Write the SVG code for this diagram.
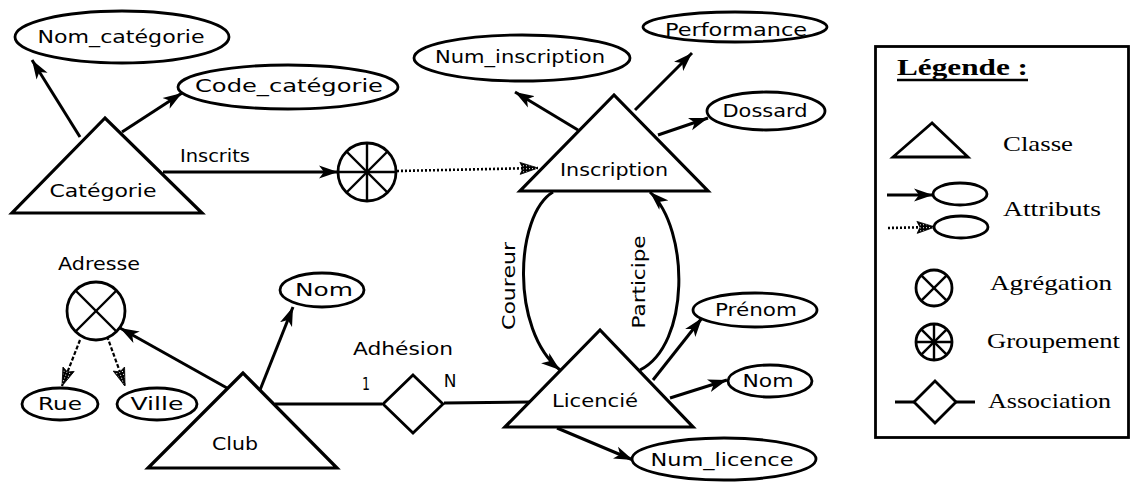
<svg xmlns="http://www.w3.org/2000/svg" width="1132" height="487" viewBox="0 0 1132 487">
  <style>
    .shape { fill: #fff; stroke: #000; stroke-width: 2.8; stroke-linejoin: miter; }
    .cls { fill: #fff; stroke: #000; stroke-width: 3.2; stroke-linejoin: miter; }
    .lnk { fill: none; stroke: #000; stroke-width: 3; }
    .dot { fill: none; stroke: #000; stroke-width: 2.6; stroke-dasharray: 2 2; }
    .dash { fill: none; stroke: #000; stroke-width: 2.2; stroke-dasharray: 4 2; }
    .spoke { stroke: #000; stroke-width: 2.4; }
    text { font-family: "DejaVu Sans", "Liberation Sans", sans-serif; font-size: 17px; fill: #000; }
    .c { text-anchor: middle; }
    .leg { font-family: "Liberation Serif", "DejaVu Serif", serif; font-size: 22px; }
    .title { font-family: "Liberation Serif", "DejaVu Serif", serif; font-size: 24px; font-weight: bold; }
  </style>
  <defs>
    <!-- stippled fill for the grouped-attribute arrowheads -->
    <pattern id="stip" width="3" height="3" patternUnits="userSpaceOnUse">
      <rect width="3" height="3" fill="#000"/>
      <rect x="1" y="1" width="1" height="1" fill="#fff"/>
    </pattern>
    <marker id="arr" markerUnits="userSpaceOnUse" markerWidth="20" markerHeight="14" refX="19" refY="7" orient="auto">
      <path d="M0,0.5 L19,7 L0,13.5 L5,7 Z" fill="#000"/>
    </marker>
    <marker id="arrs" markerUnits="userSpaceOnUse" markerWidth="20" markerHeight="14" refX="19" refY="7" orient="auto">
      <path d="M1,1 L19,7 L1,13 L4,7 Z" fill="url(#stip)" stroke="#000" stroke-width="0.8"/>
    </marker>
  </defs>

  <!-- connectors -->
  <g id="connectors">
    <!-- Catégorie attributes -->
    <line class="lnk" x1="80" y1="137" x2="32" y2="60" marker-end="url(#arr)"/>
    <line class="lnk" x1="122" y1="132" x2="182" y2="93" marker-end="url(#arr)"/>
    <!-- Inscrits : Catégorie to groupement -->
    <line class="lnk" x1="163" y1="172" x2="338" y2="172" marker-end="url(#arr)"/>
    <!-- groupement to Inscription -->
    <line class="dot" x1="397" y1="171" x2="538" y2="168" marker-end="url(#arrs)"/>
    <!-- Inscription attributes -->
    <line class="lnk" x1="578" y1="130" x2="515" y2="92" marker-end="url(#arr)"/>
    <line class="lnk" x1="635" y1="110" x2="692" y2="53" marker-end="url(#arr)"/>
    <line class="lnk" x1="658" y1="135" x2="708" y2="118" marker-end="url(#arr)"/>
    <!-- Coureur / Participe -->
    <path class="lnk" d="M553,192 C515,215 510,330 560,370" marker-end="url(#arr)"/>
    <path class="lnk" d="M640,370 C690,345 690,230 650,192" marker-end="url(#arr)"/>
    <!-- Adresse components -->
    <line class="dash" x1="80" y1="340" x2="62" y2="386" marker-end="url(#arrs)"/>
    <line class="dash" x1="107" y1="336" x2="125" y2="386" marker-end="url(#arrs)"/>
    <!-- Club attributes -->
    <line class="lnk" x1="227" y1="388" x2="120" y2="328" marker-end="url(#arr)"/>
    <line class="lnk" x1="260" y1="390" x2="293" y2="307" marker-end="url(#arr)"/>
    <!-- Adhésion association -->
    <line class="lnk" x1="275" y1="404" x2="382" y2="404"/>
    <line class="lnk" x1="444" y1="403" x2="530" y2="402"/>
    <!-- Licencié attributes -->
    <line class="lnk" x1="653" y1="380" x2="702" y2="318" marker-end="url(#arr)"/>
    <line class="lnk" x1="670" y1="398" x2="727" y2="380" marker-end="url(#arr)"/>
    <line class="lnk" x1="557" y1="428" x2="633" y2="460" marker-end="url(#arr)"/>
    <!-- connector labels -->
    <text class="c" x="215" y="162" textLength="70" lengthAdjust="spacingAndGlyphs">Inscrits</text>
    <text class="c" transform="translate(515,286) rotate(-90)" textLength="88" lengthAdjust="spacingAndGlyphs">Coureur</text>
    <text class="c" transform="translate(645,282) rotate(-90)" textLength="93" lengthAdjust="spacingAndGlyphs">Participe</text>
    <text class="c" x="403" y="355" textLength="100" lengthAdjust="spacingAndGlyphs">Adhésion</text>
    <text class="c" x="366" y="390" textLength="8" lengthAdjust="spacingAndGlyphs">1</text>
    <text class="c" x="450" y="387">N</text>
  </g>

  <!-- classes -->
  <g id="categorie">
    <polygon class="cls" points="105,118 12,213 202,213"/>
    <text class="c" x="103" y="197" textLength="107" lengthAdjust="spacingAndGlyphs">Catégorie</text>
  </g>
  <g id="inscription">
    <polygon class="cls" points="614,95 520,191 708,191"/>
    <text class="c" x="614" y="176" textLength="108" lengthAdjust="spacingAndGlyphs">Inscription</text>
  </g>
  <g id="club">
    <polygon class="cls" points="243,373 148,468 337,468"/>
    <text class="c" x="235" y="450" textLength="46" lengthAdjust="spacingAndGlyphs">Club</text>
  </g>
  <g id="licencie">
    <polygon class="cls" points="600,330 505,427 693,427"/>
    <text class="c" x="595" y="407" textLength="86" lengthAdjust="spacingAndGlyphs">Licencié</text>
  </g>

  <!-- attributes -->
  <g id="nom-categorie">
    <ellipse class="shape" cx="122" cy="37" rx="107" ry="26"/>
    <text class="c" x="121" y="43" textLength="167" lengthAdjust="spacingAndGlyphs">Nom_catégorie</text>
  </g>
  <g id="code-categorie">
    <ellipse class="shape" cx="288" cy="87" rx="110" ry="22"/>
    <text class="c" x="289" y="92" textLength="188" lengthAdjust="spacingAndGlyphs">Code_catégorie</text>
  </g>
  <g id="num-inscription">
    <ellipse class="shape" cx="522" cy="58" rx="108" ry="23"/>
    <text class="c" x="520" y="63" textLength="170" lengthAdjust="spacingAndGlyphs">Num_inscription</text>
  </g>
  <g id="performance">
    <ellipse class="shape" cx="735" cy="27" rx="92" ry="15"/>
    <text class="c" x="736" y="36" textLength="142" lengthAdjust="spacingAndGlyphs">Performance</text>
  </g>
  <g id="dossard">
    <ellipse class="shape" cx="766" cy="111" rx="59" ry="19"/>
    <text class="c" x="765" y="117" textLength="85" lengthAdjust="spacingAndGlyphs">Dossard</text>
  </g>
  <g id="nom-club">
    <ellipse class="shape" cx="322" cy="290" rx="42" ry="17"/>
    <text class="c" x="324" y="296" textLength="58" lengthAdjust="spacingAndGlyphs">Nom</text>
  </g>
  <g id="rue">
    <ellipse class="shape" cx="60" cy="404" rx="38" ry="16"/>
    <text class="c" x="60" y="410" textLength="44" lengthAdjust="spacingAndGlyphs">Rue</text>
  </g>
  <g id="ville">
    <ellipse class="shape" cx="157" cy="404" rx="40" ry="16"/>
    <text class="c" x="157" y="410" textLength="53" lengthAdjust="spacingAndGlyphs">Ville</text>
  </g>
  <g id="prenom">
    <ellipse class="shape" cx="755" cy="310" rx="62" ry="17"/>
    <text class="c" x="756" y="316" textLength="82" lengthAdjust="spacingAndGlyphs">Prénom</text>
  </g>
  <g id="nom-licencie">
    <ellipse class="shape" cx="770" cy="381" rx="42" ry="16"/>
    <text class="c" x="768" y="387" textLength="51" lengthAdjust="spacingAndGlyphs">Nom</text>
  </g>
  <g id="num-licence">
    <ellipse class="shape" cx="724" cy="459" rx="92" ry="21"/>
    <text class="c" x="722" y="466" textLength="143" lengthAdjust="spacingAndGlyphs">Num_licence</text>
  </g>

  <!-- groupement -->
  <g id="groupement">
    <circle class="shape" cx="367" cy="172" r="29"/>
    <line class="spoke" x1="338" y1="172" x2="396" y2="172"/>
    <line class="spoke" x1="367" y1="143" x2="367" y2="201"/>
    <line class="spoke" x1="346.5" y1="151.5" x2="387.5" y2="192.5"/>
    <line class="spoke" x1="387.5" y1="151.5" x2="346.5" y2="192.5"/>
  </g>

  <!-- agrégation Adresse -->
  <g id="adresse">
    <circle class="shape" cx="96" cy="311" r="29"/>
    <line class="spoke" x1="75.5" y1="290.5" x2="116.5" y2="331.5"/>
    <line class="spoke" x1="116.5" y1="290.5" x2="75.5" y2="331.5"/>
    <text class="c" x="99" y="270" textLength="82" lengthAdjust="spacingAndGlyphs">Adresse</text>
  </g>

  <!-- association Adhésion -->
  <g id="adhesion">
    <polygon class="shape" points="413,375 443,404 413,433 383,404"/>
  </g>

  <!-- legend -->
  <g id="legende">
    <rect x="875.5" y="46.5" width="253" height="391" fill="#fff" stroke="#000" stroke-width="2.8"/>
    <text class="title" x="897" y="75" textLength="131" lengthAdjust="spacingAndGlyphs">Légende :</text>
    <line x1="897" y1="80" x2="1028" y2="80" stroke="#000" stroke-width="2.4"/>

    <polygon class="shape" points="932,123 893,157 968,157"/>
    <text class="leg" x="1003" y="151" textLength="70" lengthAdjust="spacingAndGlyphs">Classe</text>

    <line class="lnk" x1="887" y1="195" x2="933" y2="195" marker-end="url(#arr)"/>
    <ellipse class="shape" cx="960" cy="194" rx="27" ry="11"/>
    <line class="dot" x1="888" y1="228" x2="935" y2="227" marker-end="url(#arrs)"/>
    <ellipse class="shape" cx="961" cy="227" rx="27" ry="11"/>
    <text class="leg" x="1003" y="216" textLength="98" lengthAdjust="spacingAndGlyphs">Attributs</text>

    <circle class="shape" cx="934" cy="288" r="18"/>
    <line class="spoke" x1="921.3" y1="275.3" x2="946.7" y2="300.7"/>
    <line class="spoke" x1="946.7" y1="275.3" x2="921.3" y2="300.7"/>
    <text class="leg" x="990" y="290" textLength="122" lengthAdjust="spacingAndGlyphs">Agrégation</text>

    <circle class="shape" cx="934" cy="342" r="18"/>
    <line class="spoke" x1="916" y1="342" x2="952" y2="342"/>
    <line class="spoke" x1="934" y1="324" x2="934" y2="360"/>
    <line class="spoke" x1="921.3" y1="329.3" x2="946.7" y2="354.7"/>
    <line class="spoke" x1="946.7" y1="329.3" x2="921.3" y2="354.7"/>
    <text class="leg" x="987" y="348" textLength="133" lengthAdjust="spacingAndGlyphs">Groupement</text>

    <line class="lnk" x1="895" y1="402" x2="975" y2="402"/>
    <polygon class="shape" points="935,381 956,402 935,423 914,402"/>
    <text class="leg" x="988" y="408" textLength="123" lengthAdjust="spacingAndGlyphs">Association</text>
  </g>
</svg>
